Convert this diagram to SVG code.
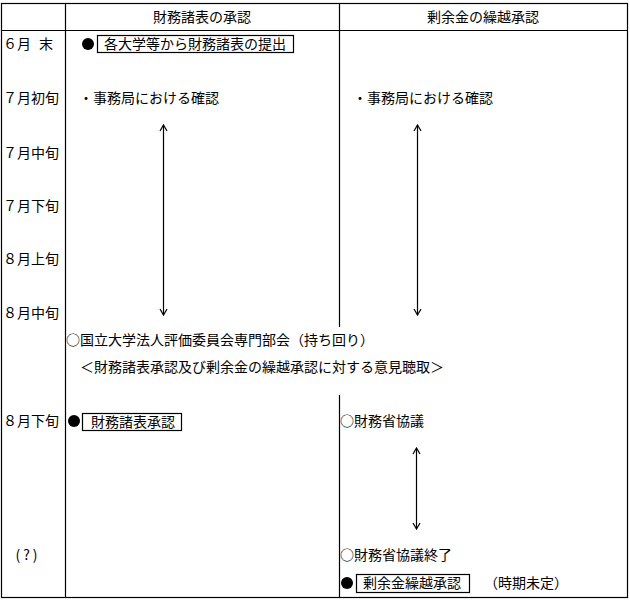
<svg xmlns="http://www.w3.org/2000/svg" width="630" height="600" viewBox="0 0 630 600">
<defs>
<style>
text{font-family:"Noto Sans CJK JP","Noto Sans CJK SC",sans-serif;font-size:14px;fill:#000}
.ln{stroke:#000;stroke-width:1.2;fill:none}
.box{stroke:#000;stroke-width:1.2;fill:#fff}
.arr{stroke:#000;stroke-width:1.2;fill:none;marker-start:url(#ah);marker-end:url(#ah)}
</style>
<marker id="ah" viewBox="0 0 10 10" refX="9" refY="5" markerWidth="10" markerHeight="10" markerUnits="userSpaceOnUse" orient="auto-start-reverse">
<path d="M3,1.5 L9,5 L3,8.5" fill="none" stroke="#000" stroke-width="1.2"/>
</marker>
</defs>
<g id="table">
<rect class="ln" x="1.5" y="3.5" width="626" height="594"/>
<line class="ln" x1="65.5" y1="3.5" x2="65.5" y2="597.5"/>
<line class="ln" x1="1.5" y1="30.5" x2="627.5" y2="30.5"/>
<line class="ln" x1="339.5" y1="3.5" x2="339.5" y2="327"/>
<line class="ln" x1="339.5" y1="395" x2="339.5" y2="597.5"/>
</g>
<g id="headers">
<text x="202" y="22" text-anchor="middle">財務諸表の承認</text>
<text x="483" y="22" text-anchor="middle">剰余金の繰越承認</text>
</g>
<g id="periods">
<text x="3" y="49">６月<tspan x="39">末</tspan></text>
<text x="3" y="103">７月初旬</text>
<text x="3" y="158">７月中旬</text>
<text x="3" y="211">７月下旬</text>
<text x="3" y="264">８月上旬</text>
<text x="3" y="318">８月中旬</text>
<text x="3" y="426">８月下旬</text>
<text x="28" y="560" text-anchor="middle" letter-spacing="3">(?)</text>
</g>
<g id="n-submit">
<circle cx="88" cy="44" r="6"/>
<rect class="box" x="97.5" y="35.5" width="196" height="17"/>
<text x="104" y="49">各大学等から財務諸表の提出</text>
</g>
<g id="n-check-left">
<text x="79" y="103">・事務局における確認</text>
</g>
<g id="n-check-right">
<text x="353" y="103">・事務局における確認</text>
</g>
<g id="n-committee">
<text x="66" y="345">○国立大学法人評価委員会専門部会（持ち回り）</text>
<text x="80" y="372">＜財務諸表承認及び剰余金の繰越承認に対する意見聴取＞</text>
</g>
<g id="n-approve-fs">
<circle cx="74" cy="421" r="6"/>
<rect class="box" x="82.5" y="413.5" width="99" height="17"/>
<text x="91" y="427">財務諸表承認</text>
</g>
<g id="n-mof">
<text x="340" y="426">○財務省協議</text>
</g>
<g id="n-mof-end">
<text x="340" y="560">○財務省協議終了</text>
</g>
<g id="n-approve-surplus">
<circle cx="347" cy="583" r="6"/>
<rect class="box" x="356.5" y="574.5" width="113" height="18"/>
<text x="363" y="588">剰余金繰越承認</text>
<text x="484" y="588">（時期未定）</text>
</g>
<g id="connectors">
<line class="arr" x1="163.5" y1="125" x2="163.5" y2="315"/>
<line class="arr" x1="417.5" y1="125" x2="417.5" y2="315"/>
<line class="arr" x1="416.5" y1="448" x2="416.5" y2="529"/>
</g>
</svg>
